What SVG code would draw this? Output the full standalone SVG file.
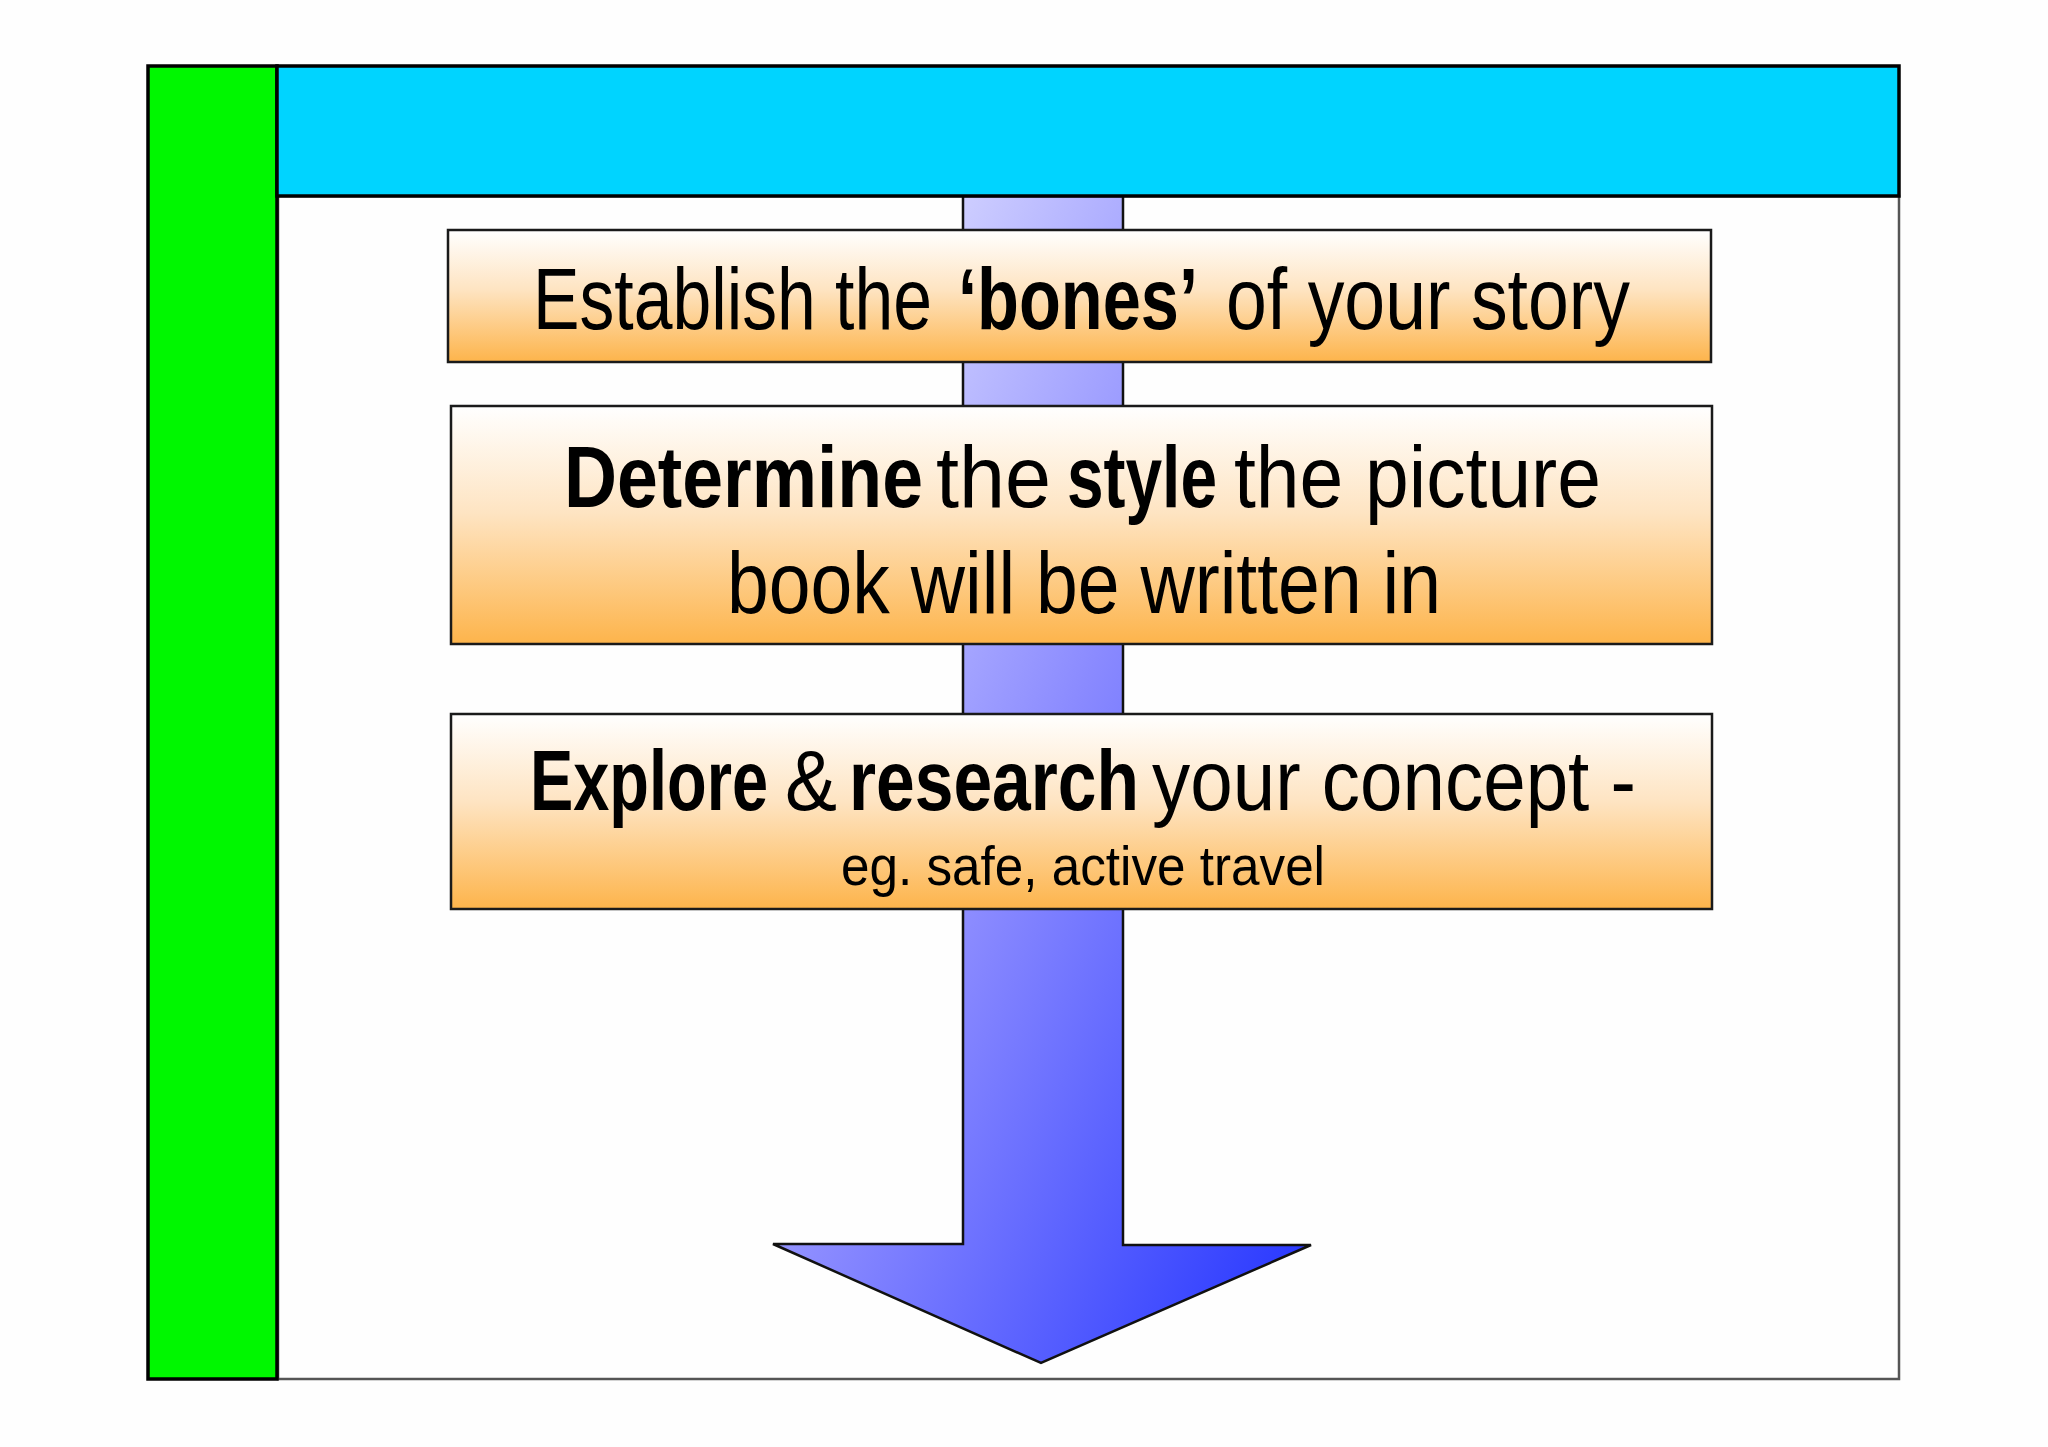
<svg xmlns="http://www.w3.org/2000/svg" width="2048" height="1447" viewBox="0 0 2048 1447">
  <defs>
    <linearGradient id="boxGrad" x1="0" y1="0" x2="0" y2="1">
      <stop offset="0" stop-color="#ffffff"/>
      <stop offset="0.45" stop-color="#fee4c2"/>
      <stop offset="1" stop-color="#fdb44b"/>
    </linearGradient>
    <linearGradient id="arrowGrad" x1="0" y1="0" x2="1" y2="1">
      <stop offset="0" stop-color="#f2f2ff"/>
      <stop offset="0.5" stop-color="#8a8aff"/>
      <stop offset="1" stop-color="#1f30ff"/>
    </linearGradient>
    <style>
      .box { fill: url(#boxGrad); stroke: #1a1a1a; stroke-width: 2.5; }
      .t { font-family: "Liberation Sans", Arial, sans-serif; fill: #000; }
      .b { font-weight: 700; }
      .big { font-size: 88px; }
      .mid { font-size: 85px; }
      .small { font-size: 56px; }
    </style>
  </defs>

  <rect x="0" y="0" width="2048" height="1447" fill="#fefefe"/>

  <g id="content-area">
    <rect x="278" y="196" width="1621" height="1183" fill="#fefefe" stroke="#555555" stroke-width="2.5"/>
  </g>

  <g id="connectors">
    <path d="M963,196 L1123,196 L1123,1245 L1311,1245 L1041,1363 L773,1244 L963,1244 Z" fill="url(#arrowGrad)" stroke="#111" stroke-width="2.5" stroke-linejoin="miter"/>
  </g>

  <g id="box1">
    <rect class="box" x="448" y="230" width="1263" height="132"/>
    <text class="t big" x="533" y="329" textLength="399" lengthAdjust="spacingAndGlyphs">Establish the</text>
    <text class="t big b" x="958" y="329" textLength="240" lengthAdjust="spacingAndGlyphs">‘bones’</text>
    <text class="t big" x="1226" y="329" textLength="404" lengthAdjust="spacingAndGlyphs">of your story</text>
  </g>

  <g id="box2">
    <rect class="box" x="451" y="406" width="1261" height="238"/>
    <text class="t big b" x="564" y="507" textLength="359" lengthAdjust="spacingAndGlyphs">Determine</text>
    <text class="t big" x="936" y="507" textLength="115" lengthAdjust="spacingAndGlyphs">the</text>
    <text class="t big b" x="1067" y="507" textLength="150" lengthAdjust="spacingAndGlyphs">style</text>
    <text class="t big" x="1234" y="507" textLength="367" lengthAdjust="spacingAndGlyphs">the picture</text>
    <text class="t big" x="727" y="613" textLength="714" lengthAdjust="spacingAndGlyphs">book will be written in</text>
  </g>

  <g id="box3">
    <rect class="box" x="451" y="714" width="1261" height="195"/>
    <text class="t mid b" x="530" y="810" textLength="238" lengthAdjust="spacingAndGlyphs">Explore</text>
    <text class="t mid" x="785" y="810" textLength="52" lengthAdjust="spacingAndGlyphs">&amp;</text>
    <text class="t mid b" x="849" y="810" textLength="290" lengthAdjust="spacingAndGlyphs">research</text>
    <text class="t mid" x="1152" y="810" textLength="484" lengthAdjust="spacingAndGlyphs">your concept -</text>
    <text class="t small" x="841" y="885" textLength="484" lengthAdjust="spacingAndGlyphs">eg. safe, active travel</text>
  </g>

  <g id="sidebar">
    <rect x="148" y="66" width="129" height="1313" fill="#00f700" stroke="#000" stroke-width="3.5"/>
  </g>

  <g id="header">
    <rect x="277" y="66" width="1622" height="130" fill="#00d4ff" stroke="#000" stroke-width="3.5"/>
  </g>
</svg>
